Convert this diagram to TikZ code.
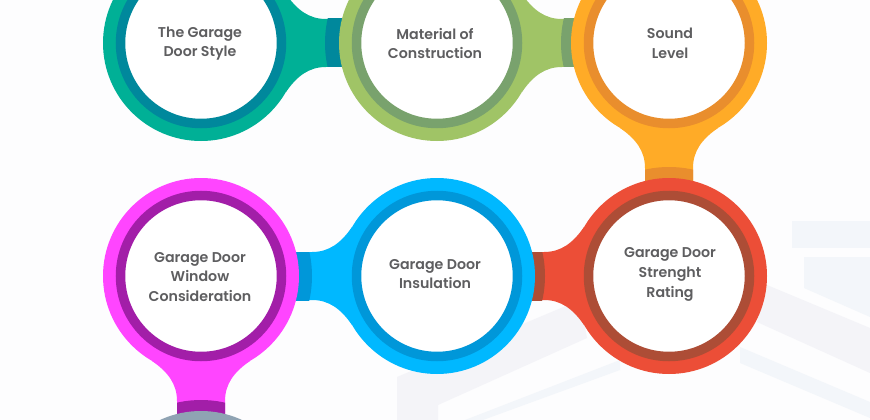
\documentclass[tikz,border=0pt]{standalone}
\usepackage{fontspec}
\setmainfont{Poppins}[UprightFont=* SemiBold]
\definecolor{bgc}{HTML}{FDFDFE}
\definecolor{wm}{HTML}{F4F4F8}
\definecolor{wn}{HTML}{F3F6FA}
\definecolor{txt}{HTML}{5E5E60}
\definecolor{tealA}{HTML}{00B096}\definecolor{tealB}{HTML}{00889C}
\definecolor{greenA}{HTML}{A0C466}\definecolor{greenB}{HTML}{79A26D}
\definecolor{orA}{HTML}{FFAB27}\definecolor{orB}{HTML}{E98E2D}
\definecolor{redA}{HTML}{EC4E37}\definecolor{redB}{HTML}{AD4D36}
\definecolor{blA}{HTML}{00B8FF}\definecolor{blB}{HTML}{0097D9}
\definecolor{maA}{HTML}{FF45FF}\definecolor{maB}{HTML}{A21EA8}
\definecolor{grA}{HTML}{8FA3B3}
\tikzset{
 disc/.style={circle,inner sep=0pt,minimum size=196pt,draw=none},
 ring/.style={circle,inner sep=0pt,minimum size=161pt,line width=9.5pt,fill=white},
 lbl/.style={align=center,text=txt,font=\fontsize{14.2pt}{19.6pt}\selectfont,inner sep=0pt},
}
% #1 source, #2 target, #3 direction, #4 bridge colour, #5 shade colour, #6 shade radius
\newcommand{\bridge}[6]{%
 \begin{scope}[shift={(#1)},rotate=#3]
  \fill[#4] (85,49) .. controls (96,33) and (108,24) .. (125,24) -- (232,24) -- (232,-24) -- (125,-24) .. controls (108,-24) and (96,-33) .. (85,-49) -- cycle;
  \begin{scope}
   \clip (100,-24) rectangle (232,24);
   \fill[#5] (#2) circle[radius=#6];
  \end{scope}
 \end{scope}}
\begin{document}
\begin{tikzpicture}[x=1pt,y=-1pt]
\useasboundingbox (0,0) rectangle (870,420);
\fill[bgc] (0,0) rectangle (870,420);
% faint backdrop
\fill[wn] (792,221) rectangle (870,248);
\fill[wn] (804,257) -- (870,257) -- (870,317) -- (804,288) -- cycle;
\fill[wm] (767,285) -- (870,328) -- (870,373) -- (757,322) -- cycle;
\fill[wn] (740,347) -- (870,402) -- (870,418) -- (740,363) -- cycle;
\fill[wm] (397,377) -- (580,300) -- (587,338) -- (438,405) -- (438,420) -- (397,420) -- cycle;
\fill[wn] (465,420) -- (620,360) -- (620,370) -- (483,420) -- cycle;
\coordinate (c1) at (201,43);
\coordinate (c2) at (437,43);
\coordinate (c3) at (669,43);
\coordinate (c4) at (669,276);
\coordinate (c5) at (437,276);
\coordinate (c6) at (201,276);
\coordinate (c7) at (201,509);
\bridge{c1}{c2}{0}{tealA}{tealB}{112}
\node[disc,fill=tealA] (d1) at (c1) {};
\node[ring,draw=tealB] (r1) at (c1) {};
\node[lbl] (t1) at (200,43.5) {The Garage\\Door Style};
\bridge{c2}{c3}{0}{greenA}{greenB}{108}
\node[disc,fill=greenA] (d2) at (c2) {};
\node[ring,draw=greenB] (r2) at (c2) {};
\node[lbl] (t2) at (435,43.5) {Material of\\Construction};
\bridge{c3}{c4}{-90}{orA}{orB}{109}
\node[disc,fill=orA] (d3) at (c3) {};
\node[ring,draw=orB] (r3) at (c3) {};
\node[lbl] (t3) at (670,43.5) {Sound\\Level};
\bridge{c4}{c5}{180}{redA}{redB}{108}
\node[disc,fill=redA] (d4) at (c4) {};
\node[ring,draw=redB] (r4) at (c4) {};
\node[lbl] (t4) at (670,274.5) {Garage Door\\Strenght\\Rating};
\bridge{c5}{c6}{180}{blA}{blB}{111}
\node[disc,fill=blA] (d5) at (c5) {};
\node[ring,draw=blB] (r5) at (c5) {};
\node[lbl] (t5) at (435,274) {Garage Door\\Insulation};
\bridge{c6}{c7}{-90}{maA}{maB}{109}
\node[disc,fill=maA] (d6) at (c6) {};
\node[ring,draw=maB] (r6) at (c6) {};
\node[lbl] (t6) at (200,277) {Garage Door\\Window\\Consideration};
\node[disc,fill=grA] (d7) at (c7) {};
\end{tikzpicture}
\end{document}
